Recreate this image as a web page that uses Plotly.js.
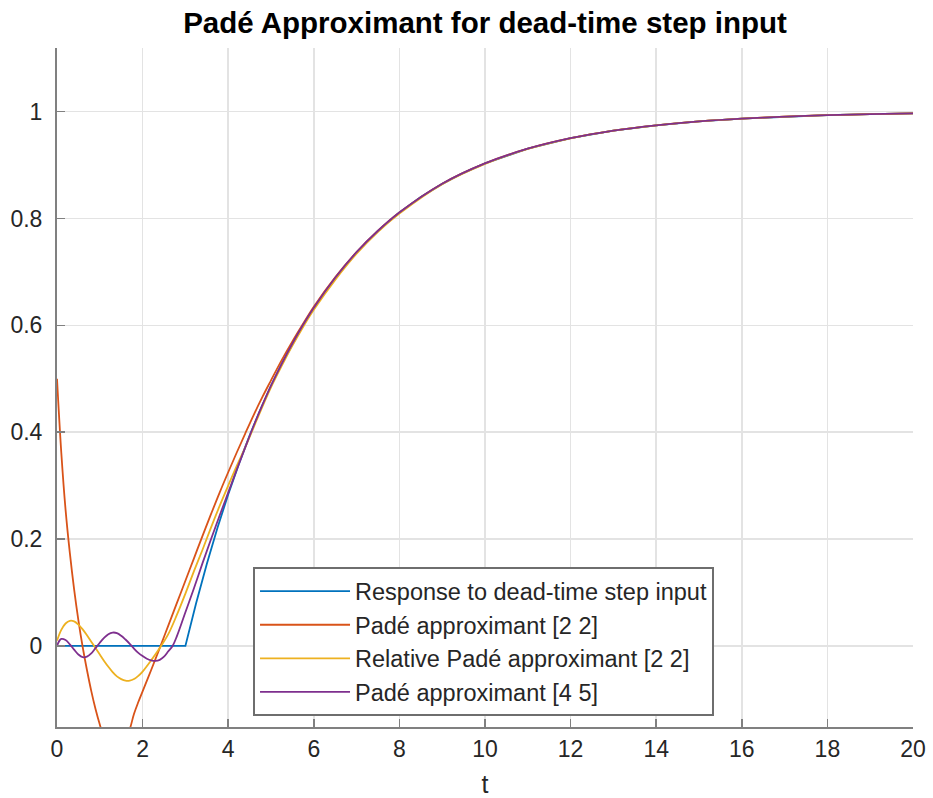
<!DOCTYPE html>
<html>
<head>
<meta charset="utf-8">
<script src="https://cdn.plot.ly/plotly-3.0.1.min.js"></script>
<style>html,body{margin:0;padding:0;background:#fff;}#chart{width:933px;height:798px;}</style>
</head>
<body>
<div id="chart"></div>
<script>
// Response to dead-time step input
var tBlue = [0, 3, 3.25, 3.5, 3.75, 4, 4.25, 4.5, 4.75, 5, 5.25, 5.5, 5.75, 6, 6.5, 7, 7.5, 8, 8.5, 9, 9.5, 10, 11, 12, 13, 14, 15, 16, 17, 18, 19, 20];
var yBlue = [0, 0, 0.080, 0.1535, 0.2212, 0.2835, 0.3408, 0.3935, 0.4420, 0.4866, 0.5276, 0.5654, 0.6002, 0.6321, 0.6886, 0.7364, 0.7769, 0.8111, 0.8401, 0.8647, 0.8854, 0.9030, 0.9305, 0.9502, 0.9643, 0.9744, 0.9817, 0.9869, 0.9906, 0.9933, 0.9952, 0.9965];

// Padé approximant [2 2]
var tRed = [0, 0.1, 0.2, 0.3, 0.4, 0.5, 0.6, 0.7, 0.8, 0.9, 1.0, 1.1, 1.2, 1.3, 1.4, 1.5, 1.6, 1.7, 1.8, 1.9, 2.0, 2.2, 2.4, 2.6, 2.8, 3.0, 3.2, 3.4, 3.6, 3.8, 4.0, 4.2, 4.4, 4.6, 4.8, 5.0, 5.25, 5.5, 5.75, 6, 6.5, 7, 7.5, 8, 9, 10, 11, 12, 13, 14, 15, 16, 17, 18, 19, 20];
var yRed = [0.5, 0.362, 0.255, 0.174, 0.106, 0.048, -0.002, -0.045, -0.084, -0.118, -0.147, -0.172, -0.189, -0.198, -0.199, -0.192, -0.177, -0.156, -0.127, -0.105, -0.085, -0.045, -0.004, 0.038, 0.080, 0.122, 0.164, 0.206, 0.247, 0.287, 0.325, 0.362, 0.398, 0.433, 0.466, 0.497, 0.535, 0.570, 0.603, 0.635, 0.690, 0.737, 0.777, 0.811, 0.865, 0.903, 0.9305, 0.9502, 0.9643, 0.9744, 0.9817, 0.9869, 0.9906, 0.9933, 0.9952, 0.9965];

// Relative Padé approximant [2 2]
var tYellow = [0, 0.1, 0.2, 0.3, 0.4, 0.5, 0.6, 0.7, 0.8, 0.9, 1.0, 1.1, 1.2, 1.3, 1.4, 1.5, 1.6, 1.7, 1.8, 1.9, 2.0, 2.2, 2.4, 2.6, 2.8, 3.0, 3.2, 3.4, 3.6, 3.8, 4.0, 4.2, 4.4, 4.6, 4.8, 5.0, 5.25, 5.5, 5.75, 6, 6.5, 7, 7.5, 8, 9, 10, 11, 12, 13, 14, 15, 16, 17, 18, 19, 20];
var yYellow = [0.010, 0.030, 0.042, 0.047, 0.046, 0.040, 0.031, 0.020, 0.008, -0.004, -0.016, -0.028, -0.039, -0.049, -0.057, -0.062, -0.065, -0.065, -0.062, -0.056, -0.048, -0.027, -0.004, 0.022, 0.058, 0.098, 0.140, 0.180, 0.222, 0.262, 0.300, 0.337, 0.372, 0.410, 0.448, 0.484, 0.524, 0.562, 0.597, 0.629, 0.685, 0.734, 0.775, 0.809, 0.864, 0.902, 0.930, 0.950, 0.9643, 0.9744, 0.9817, 0.9869, 0.9906, 0.9933, 0.9952, 0.9965];

// Padé approximant [4 5]
var tPurple = [0, 0.05, 0.1, 0.2, 0.3, 0.4, 0.5, 0.6, 0.7, 0.8, 0.9, 1.0, 1.1, 1.2, 1.3, 1.4, 1.5, 1.6, 1.7, 1.8, 1.9, 2.0, 2.1, 2.2, 2.3, 2.4, 2.5, 2.6, 2.7, 2.8, 3.0, 3.2, 3.4, 3.6, 3.8, 4.0, 4.2, 4.4, 4.6, 4.8, 5.0, 5.25, 5.5, 5.75, 6, 6.5, 7, 7.5, 8, 9, 10, 11, 12, 13, 14, 15, 16, 17, 18, 19, 20];
var yPurple = [0.0, 0.009, 0.013, 0.011, 0.003, -0.007, -0.016, -0.021, -0.020, -0.014, -0.004, 0.006, 0.015, 0.022, 0.025, 0.024, 0.019, 0.012, 0.004, -0.005, -0.013, -0.019, -0.024, -0.027, -0.028, -0.026, -0.020, -0.010, 0.000, 0.018, 0.063, 0.108, 0.155, 0.200, 0.244, 0.287, 0.330, 0.372, 0.413, 0.451, 0.487, 0.528, 0.566, 0.601, 0.633, 0.689, 0.737, 0.777, 0.811, 0.865, 0.903, 0.9305, 0.9502, 0.9643, 0.9744, 0.9817, 0.9869, 0.9906, 0.9933, 0.9952, 0.9965];

var names = ['Response to dead-time step input', 'Padé approximant [2 2]', 'Relative Padé approximant [2 2]', 'Padé approximant [4 5]'];
var colors = ['#0072BD', '#D95319', '#EDB120', '#7E2F8E'];
var xTicks = [0, 2, 4, 6, 8, 10, 12, 14, 16, 18, 20];
var yTicks = [0, 0.2, 0.4, 0.6, 0.8, 1];
var yTickText = ['0', '0.2', '0.4', '0.6', '0.8', '1'];

var FONT = 'Liberation Sans, Arial, Helvetica, sans-serif';

var traces = [
  {x: tBlue, y: yBlue, name: names[0], mode: 'lines', line: {color: colors[0], width: 1.8, shape: 'linear'}},
  {x: tRed, y: yRed, name: names[1], mode: 'lines', line: {color: colors[1], width: 1.8, shape: 'spline', smoothing: 1}},
  {x: tYellow, y: yYellow, name: names[2], mode: 'lines', line: {color: colors[2], width: 1.8, shape: 'spline', smoothing: 1}},
  {x: tPurple, y: yPurple, name: names[3], mode: 'lines', line: {color: colors[3], width: 1.8, shape: 'spline', smoothing: 1}}
];

var axisCommon = {
  showline: true, linecolor: '#808080', linewidth: 2,
  ticks: 'inside', ticklen: 8, tickwidth: 1.5, tickcolor: '#808080',
  showgrid: true, gridcolor: '#e3e3e3', gridwidth: 1.5,
  zeroline: false, mirror: false,
  tickfont: {family: FONT, size: 23, color: '#262626'}
};

var layout = {
  width: 933, height: 798,
  margin: {l: 57, r: 20, t: 48, b: 71},
  paper_bgcolor: '#ffffff', plot_bgcolor: '#ffffff',
  font: {family: FONT, color: '#262626'},
  title: {text: '<b>Padé Approximant for dead-time step input</b>', font: {family: FONT, size: 29.5, color: '#000000'}, x: 0.5, xref: 'paper', xanchor: 'center', y: 0.972, yref: 'container', yanchor: 'middle'},
  xaxis: Object.assign({}, axisCommon, {
    range: [0, 20], tickmode: 'array', tickvals: xTicks, ticktext: xTicks.map(String),
    title: {text: 't', font: {family: FONT, size: 25, color: '#262626'}, standoff: 16}
  }),
  yaxis: Object.assign({}, axisCommon, {
    range: [-0.1517, 1.119], tickmode: 'array', tickvals: yTicks, ticktext: yTickText,
    ticklabelstandoff: 8
  }),
  showlegend: true,
  legend: {
    x: 0.229, y: 0.235, xanchor: 'left', yanchor: 'top',
    bgcolor: '#ffffff', bordercolor: '#6e6e6e', borderwidth: 2,
    font: {family: FONT, size: 23.5, color: '#262626'},
    itemwidth: 90, tracegroupgap: 0
  }
};

Plotly.newPlot('chart', traces, layout, {displayModeBar: false, staticPlot: true});
</script>
</body>
</html>
